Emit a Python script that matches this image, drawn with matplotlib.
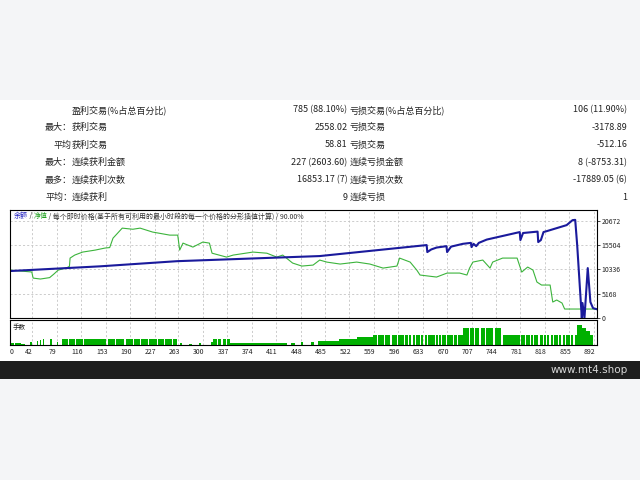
import numpy as np
import matplotlib
matplotlib.use("Agg")
import matplotlib.pyplot as plt
from matplotlib.patches import Rectangle

plt.rcParams['font.family'] = ['Noto Sans CJK SC', 'DejaVu Sans']

# --- summary table ---
row_heads = ["", "最大：", "平均", "最大：", "最多：", "平均："]
win_labels = ["盈利交易(%占总百分比)", "获利交易", "获利交易", "连续获利金额", "连续获利次数", "连续获利"]
win_values = ["785 (88.10%)", "2558.02", "58.81", "227 (2603.60)", "16853.17 (7)", "9"]
loss_labels = ["亏损交易(%占总百分比)", "亏损交易", "亏损交易", "连续亏损金额", "连续亏损次数", "连续亏损"]
loss_values = ["106 (11.90%)", "-3178.89", "-512.16", "8 (-8753.31)", "-17889.05 (6)", "1"]

# --- balance / equity curves (trade number, account value) ---
balance_t = [14, 150, 267, 483, 560, 645, 646, 652, 660, 675, 676, 682, 700, 712, 713, 716,
             720, 724, 736, 786, 787, 791, 813, 814, 818, 822, 827, 857, 866, 870, 873, 880,
             881, 884, 889, 893, 897, 902]
balance_v = [10000, 11000, 12100, 13190, 14300, 15530, 14040, 14600, 15000, 15300, 14040, 15200,
             15800, 16000, 15100, 15800, 15300, 16000, 16700, 18300, 16600, 18100, 18400, 16170,
             16600, 18300, 18500, 19780, 20840, 20900, 15500, 0, 3190, 0, 10630, 3400, 2100, 1900]

equity_t = [14, 47, 49, 60, 74, 80, 87, 100, 104, 105, 112, 124, 143, 158, 165, 170, 184, 200,
            211, 230, 256, 268, 271, 276, 291, 306, 316, 320, 342, 352, 382, 403, 418, 427, 442,
            456, 473, 483, 494, 514, 539, 559, 579, 600, 604, 620, 630, 635, 660, 676, 695, 706,
            710, 715, 730, 741, 745, 760, 782, 789, 798, 806, 812, 819, 832, 836, 842, 850, 854, 903]
equity_v = [10200, 9800, 8500, 8300, 8600, 9300, 10200, 10700, 11000, 12760, 13400, 14040, 14460,
            14900, 15000, 17000, 19140, 18900, 19140, 18300, 17650, 17650, 14460, 15950, 15100,
            16170, 15950, 13800, 12970, 13400, 14040, 13800, 12970, 13400, 11700, 11060, 11270,
            12340, 11900, 11490, 11910, 11490, 10630, 11060, 12760, 11910, 10210, 9150, 8720, 9570,
            9570, 9150, 10630, 11910, 12340, 10630, 11910, 12760, 12760, 9780, 10850, 10210, 7660,
            7020, 7020, 3400, 3830, 3190, 1910, 1910]

y_ticks = [0, 5168, 10336, 15504, 20672]
x_tick_labels = ["0", "42", "79", "116", "153", "190", "227", "263", "300", "337", "374", "411",
                 "448", "485", "522", "559", "596", "633", "670", "707", "744", "781", "818",
                 "855", "892"]

# --- lots panel: segment start trade and lots held until next start ---
lot_start = [14, 20, 22, 30, 36, 45, 48, 55, 57, 59, 61, 64, 66, 75, 77, 85, 87, 93, 267, 272,
             275, 285, 290, 300, 304, 318, 321, 347, 433, 440, 445, 455, 458, 470, 475, 480, 513,
             540, 563, 630, 700, 760, 787, 873, 880, 886, 892, 897]
lot_size = [0.2, 0, 0.2, 0.1, 0, 0.3, 0, 0.4, 0, 0.5, 0, 0.6, 0, 0.6, 0, 0.3, 0, 0.6, 0, 0.2,
            0, 0.1, 0, 0.2, 0, 0.3, 0.6, 0.2, 0, 0.2, 0, 0.3, 0, 0.3, 0, 0.4, 0.6, 0.8, 1.0, 1.0,
            1.7, 1.0, 1.0, 2.0, 1.7, 1.4, 1.0, 0]
lot_gaps = [102, 112, 124, 160, 173, 187, 200, 211, 223, 236, 247, 259, 327, 334, 341,
            570, 580, 590, 600, 610, 617, 622, 627, 635, 640, 645, 657, 662, 667, 674, 685, 691,
            709, 716, 725, 733, 746, 758, 786, 794, 801, 806, 814, 821, 826, 831, 836, 844,
            849, 854, 862, 867]

W, H = 640, 480


def px_rect(l, t, r, b):
    return [l / W, 1 - b / H, (r - l) / W, (b - t) / H]


fig = plt.figure(figsize=(6.4, 4.8), dpi=100, facecolor='#f4f5f7')
fig.add_artist(Rectangle((0, 1 - 361 / H), 1, 261 / H, transform=fig.transFigure,
                         facecolor='white', edgecolor='none', zorder=0))
fig.add_artist(Rectangle((0, 1 - 379 / H), 1, 18 / H, transform=fig.transFigure,
                         facecolor='#1e1e1e', edgecolor='none', zorder=0))
fig.text(628 / W, 1 - 370 / H, "www.mt4.shop", ha='right', va='center',
         color='#d8d8d8', fontsize=7.5, family='DejaVu Sans')

txt = dict(fontsize=6.5, color='#222222', va='center')
row_y = [110, 127.5, 145, 162.5, 180, 197]
for i, y in enumerate(row_y):
    fy = 1 - y / H
    fig.text(72 / W, fy, row_heads[i], ha='right', **txt)
    fig.text(72 / W, fy, win_labels[i], ha='left', **txt)
    fig.text(347.5 / W, fy, win_values[i], ha='right', **txt)
    fig.text(350 / W, fy, loss_labels[i], ha='left', **txt)
    fig.text(627 / W, fy, loss_values[i], ha='right', **txt)

x_lo, x_hi = 14, 903
tick_pos = [x_lo + 3] + [int(s) for s in x_tick_labels[1:]]
grid_pos = [int(s) + 6 for s in x_tick_labels[1:]]
grid_kw = dict(color='#c4c4c4', lw=0.6, ls=(0, (2.5, 2.5)))

# main chart
ax = fig.add_axes(px_rect(10, 210, 597, 318))
for y in y_ticks[1:]:
    ax.axhline(y, zorder=0, **grid_kw)
for x in grid_pos:
    ax.axvline(x, zorder=0, **grid_kw)
ax.plot(equity_t, equity_v, color='#3cb43c', lw=0.8)
ax.plot(balance_t, balance_v, color='#1a1a9c', lw=1.5)
ax.set_xlim(x_lo, x_hi)
ax.set_ylim(0, 23000)
ax.set_xticks([])
ax.yaxis.tick_right()
ax.set_yticks(y_ticks)
ax.set_yticklabels([str(v) for v in y_ticks])
ax.tick_params(axis='y', length=2, width=0.6, pad=1.5, labelsize=5, colors='#222222')
for s in ax.spines.values():
    s.set_linewidth(0.8)

# legend line at top of chart
pieces = [("余额", '#2020c0'), (" / ", '#333333'), ("净值", '#20a020'),
          (" / 每个即时价格(基于所有可利用的最小时段的每一个价格的分形插值计算) / 90.00%", '#333333')]
prev = ax.text(0.006, 0.94, pieces[0][0], transform=ax.transAxes, fontsize=5.0,
               color=pieces[0][1], va='center', ha='left')
for s, c in pieces[1:]:
    prev = ax.annotate(s, xy=(1, 0.5), xycoords=prev, fontsize=5.0, color=c,
                       va='center', ha='left')

# lots panel
lots = np.zeros(x_hi + 1)
for k, start in enumerate(lot_start):
    end = lot_start[k + 1] if k + 1 < len(lot_start) else x_hi + 1
    lots[start:end] = lot_size[k]
for g in lot_gaps:
    lots[g:g + 2] = 0
trades = np.arange(len(lots))

ax2 = fig.add_axes(px_rect(10, 320, 597, 345))
for x in grid_pos:
    ax2.axvline(x, zorder=0, **grid_kw)
ax2.bar(trades, lots, width=1.0, align='edge', color='#00b000', linewidth=0)
ax2.set_xlim(x_lo, x_hi)
ax2.set_ylim(0, 2.5)
ax2.set_yticks([])
ax2.set_xticks(tick_pos)
ax2.set_xticklabels(x_tick_labels)
ax2.tick_params(axis='x', length=0, pad=2.5, labelsize=5, colors='#222222')
ax2.text(0.004, 0.7, "手数", transform=ax2.transAxes, fontsize=4.7, color='#222222',
         va='center', ha='left')
for s in ax2.spines.values():
    s.set_linewidth(0.8)

fig.savefig("out.png", dpi=100, facecolor=fig.get_facecolor())
